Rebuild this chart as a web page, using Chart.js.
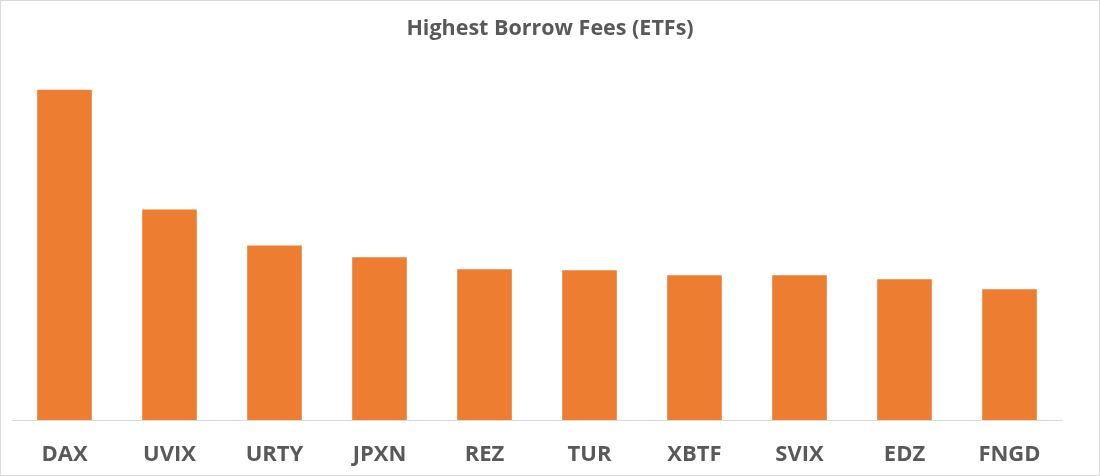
<!DOCTYPE html>
<html>
<head>
<meta charset="utf-8">
<script src="https://cdn.jsdelivr.net/npm/chart.js@4/dist/chart.umd.min.js"></script>
<style>
	html, body { margin: 0; padding: 0; background: #fff; }
	#wrap { position: relative; width: 1098px; height: 474px; border: 1px solid #d9d9d9; }
</style>
</head>
<body>
<div id="wrap"><canvas id="myChart"></canvas></div>
<script>
// borrow fees
const tickers = ["DAX", "UVIX", "URTY", "JPXN", "REZ", "TUR", "XBTF", "SVIX", "EDZ", "FNGD"];
const fees = [33.1, 21.1, 17.5, 16.3, 15.1, 15.0, 14.5, 14.5, 14.1, 13.1];

const textGrey = "#595959";

// empty side axes keep the plot where the original sits, title stays centred on the canvas
const spacer = (w, pos) => ({
	position: pos,
	display: true,
	min: 0,
	max: 35,
	grid: { display: false, drawTicks: false },
	border: { display: false },
	ticks: { display: false },
	afterFit: (scale) => { scale.width = w; },
});

const data = {
	labels: tickers,
	datasets: [
		{
			label: "Borrow fee",
			backgroundColor: "#ED7D31",
			borderColor: "#ED7D31",
			data: fees,
			barPercentage: 0.52,
			categoryPercentage: 1.0,
		},
	],
};

const config = {
	type: "bar",
	data: data,
	options: {
		responsive: true,
		maintainAspectRatio: false,
		animation: false,
		layout: { padding: 0 },
		plugins: {
			legend: { display: false },
			tooltip: { enabled: false },
			title: {
				display: true,
				text: "Highest Borrow Fees (ETFs)",
				color: textGrey,
				font: { family: "Open Sans", size: 21.5, weight: "bold" },
				padding: { top: 15, bottom: 29 },
			},
		},
		scales: {
			x: {
				grid: { display: false, drawTicks: false },
				border: { display: true, color: "#d9d9d9", width: 1 },
				ticks: {
					color: textGrey,
					font: { family: "Open Sans", size: 22, weight: "bold" },
					padding: 22,
				},
				afterFit: (scale) => { scale.height = 55; },
			},
			y: spacer(11, "left"),
			yRight: spacer(37, "right"),
		},
	},
};

new Chart(document.getElementById("myChart"), config);
</script>
</body>
</html>
